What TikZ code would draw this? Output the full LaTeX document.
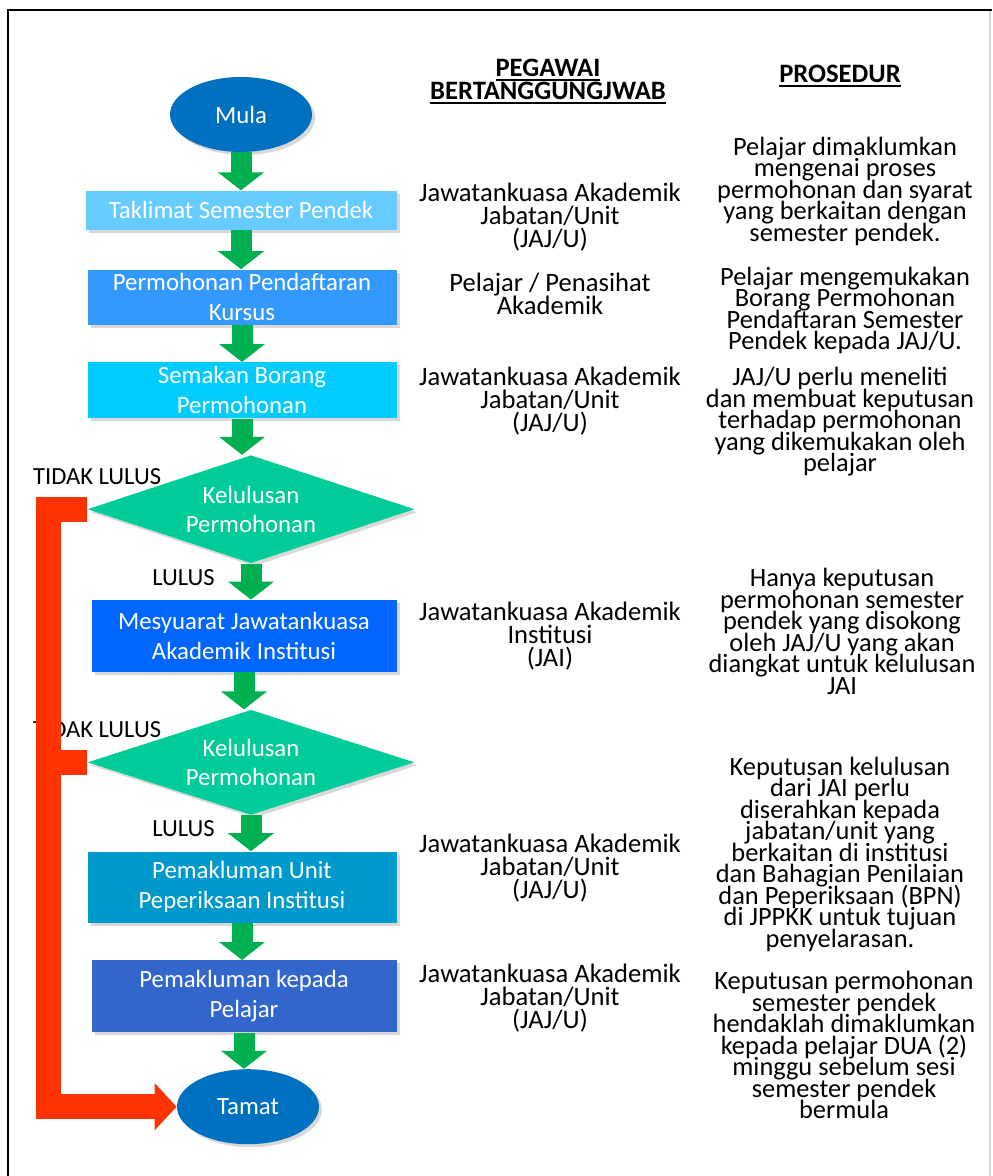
\documentclass[tikz,border=0pt]{standalone}
\usepackage{fontspec}
\setmainfont{Carlito}
\usetikzlibrary{positioning, shapes.geometric, arrows.meta, shadows}

\definecolor{ovalblue}{HTML}{0070C0}
\definecolor{skyblue}{HTML}{66CCFF}
\definecolor{midblue}{HTML}{3399FF}
\definecolor{cyanblue}{HTML}{00CCFF}
\definecolor{brightblue}{HTML}{0066FF}
\definecolor{seablue}{HTML}{0099CC}
\definecolor{royalblue}{HTML}{3366CC}
\definecolor{decgreen}{HTML}{00CC99}
\definecolor{flowgreen}{HTML}{00B050}
\definecolor{failred}{HTML}{FF3300}

\setlength{\lineskiplimit}{-20pt}
\newcommand{\headul}[1]{\setbox0\hbox{#1}\leavevmode\rlap{\vrule width \wd0 height -1.3pt depth 2.3pt}\box0}

\tikzset{
  shade/.style={drop shadow={shadow xshift=1.5pt, shadow yshift=-1.5pt, opacity=0.3}},
  oval/.style={ellipse, fill=ovalblue, text=white, inner sep=0pt, minimum width=71pt, minimum height=37.5pt, font=\fontsize{12.4}{15}\selectfont, shade},
  stepbox/.style={rectangle, text=white, inner sep=0pt, align=center, font=\fontsize{12.4}{15}\selectfont, shade},
  decision/.style={diamond, aspect=2.5, fill=decgreen, text=white, inner sep=0pt, minimum width=163.5pt, align=center, font=\fontsize{12.4}{14.5}\selectfont, shade},
  garrow/.style={draw=flowgreen, line width=10.5pt, -{Triangle[length=9pt, width=22.5pt]}},
  redarrow/.style={draw=failred, line width=12.5pt},
  lbl/.style={inner sep=0pt, font=\fontsize{12.3}{14}\selectfont},
  who/.style={inner sep=0pt, align=center, font=\fontsize{13.3}{11.5}\selectfont},
  what/.style={inner sep=0pt, align=center, font=\fontsize{13.2}{10.75}\selectfont},
  head/.style={inner sep=0pt, align=center, font=\fontsize{13.3}{11.5}\selectfont\bfseries}
}

\begin{document}
\begin{tikzpicture}[x=0.5pt, y=-0.5pt]
  \useasboundingbox (0,0) rectangle (992,1176);
  \fill[white] (0,0) rectangle (992,1176);
  % frame
  \draw[gray!35, line width=0.75pt] (990,10) -- (990,1176);
  \draw[line width=1pt] (8,1176) -- (8,10) -- (992,10);

  % flow
  \node[oval] (mula) at (241,114.5) {Mula};
  \node[stepbox, fill=skyblue, minimum width=155.5pt, minimum height=19.5pt, below=19pt of mula] (taklimat) {Taklimat Semester Pendek};
  \node[stepbox, fill=midblue, minimum width=154.5pt, minimum height=27.5pt, below=19.5pt of taklimat, xshift=0.5pt] (mohon) {Permohonan Pendaftaran\\Kursus};
  \node[stepbox, fill=cyanblue, minimum width=154.5pt, minimum height=28pt, below=18.5pt of mohon] (semak) {Semakan Borang\\Permohonan};
  \node[decision, minimum height=54pt, below=18pt of semak, xshift=4.5pt] (lulusa) {Kelulusan\\Permohonan};
  \node[stepbox, fill=brightblue, minimum width=152.5pt, minimum height=36pt, below=18pt of lulusa, xshift=-3.5pt] (mesyuarat) {Mesyuarat Jawatankuasa\\Akademik Institusi};
  \node[decision, minimum height=52.5pt, below=18.5pt of mesyuarat, xshift=3.5pt] (lulusb) {Kelulusan\\Permohonan};
  \node[stepbox, fill=seablue, minimum width=154.5pt, minimum height=35.5pt, below=18pt of lulusb, xshift=-4.5pt] (unit) {Pemakluman Unit\\Peperiksaan Institusi};
  \node[stepbox, fill=royalblue, minimum width=152.5pt, minimum height=36pt, below=18.5pt of unit, xshift=1pt] (pelajar) {Pemakluman kepada\\Pelajar};
  \node[oval, below=18pt of pelajar, xshift=2pt] (tamat) {Tamat};

  \node[lbl] (tidaka) at ([shift={(10,-33)}]lulusa.west) {TIDAK LULUS};
  \node[lbl] (tidakb) at ([shift={(10,-32.5)}]lulusb.west) {TIDAK LULUS};
  \node[lbl] (lulusla) at ([shift={(-67.5,14)}]lulusa.south) {LULUS};
  \node[lbl] (luluslb) at ([shift={(-67.5,13)}]lulusb.south) {LULUS};

  \draw[garrow] (mula.south) -- (mula.south |- taklimat.north);
  \draw[garrow] (taklimat.south) -- (taklimat.south |- mohon.north);
  \draw[garrow] (mohon.south) -- (mohon.south |- semak.north);
  \draw[garrow] (semak.south) -- (semak.south |- lulusa.north);
  \draw[garrow] (lulusa.south) -- (lulusa.south |- mesyuarat.north);
  \draw[garrow] (mesyuarat.south) -- (mesyuarat.south |- lulusb.north);
  \draw[garrow] (lulusb.south) -- (lulusb.south |- unit.north);
  \draw[garrow] (unit.south) -- (unit.south |- pelajar.north);
  \draw[garrow] (pelajar.south) -- (pelajar.south |- tamat.north);

  % tidak lulus
  \draw[redarrow, -{Triangle[length=11pt, width=23pt]}] (lulusa.west) -- ++(-38.5,0) |- (tamat.west);
  \draw[redarrow] (lulusb.west) -- ++(-38.5,0);

  % columns
  \node[head] (hpegawai) at (548,81.5) {\headul{PEGAWAI}\\\headul{BERTANGGUNGJWAB}};
  \node[head] (hprosedur) at (840,76) {\headul{PROSEDUR}};

  \node[who] (whoa) at (550,217) {Jawatankuasa Akademik\\Jabatan/Unit\\(JAJ/U)};
  \node[who] (whob) at (550,294) {Pelajar / Penasihat\\Akademik};
  \node[who] (whoc) at (550,401) {Jawatankuasa Akademik\\Jabatan/Unit\\(JAJ/U)};
  \node[who] (whod) at (550,636) {Jawatankuasa Akademik\\Institusi\\(JAI)};
  \node[who] (whoe) at (550,868) {Jawatankuasa Akademik\\Jabatan/Unit\\(JAJ/U)};
  \node[who] (whof) at (550,998) {Jawatankuasa Akademik\\Jabatan/Unit\\(JAJ/U)};

  \node[what] (whata) at (845,191) {Pelajar dimaklumkan\\mengenai proses\\permohonan dan syarat\\yang berkaitan dengan\\semester pendek.};
  \node[what] (whatb) at (845,310.5) {Pelajar mengemukakan\\Borang Permohonan\\Pendaftaran Semester\\Pendek kepada JAJ/U.};
  \node[what] (whatc) at (840,422) {JAJ/U perlu meneliti\\dan membuat keputusan\\terhadap permohonan\\yang dikemukakan oleh\\pelajar};
  \node[what] (whatd) at (842,631.5) {Hanya keputusan\\permohonan semester\\pendek yang disokong\\oleh JAJ/U yang akan\\diangkat untuk kelulusan\\JAI};
  \node[what] (whate) at (840,854) {Keputusan kelulusan\\dari JAI perlu\\diserahkan kepada\\jabatan/unit yang\\berkaitan di institusi\\dan Bahagian Penilaian\\dan Peperiksaan (BPN)\\di JPPKK untuk tujuan\\penyelarasan.};
  \node[what] (whatf) at (844,1045) {Keputusan permohonan\\semester pendek\\hendaklah dimaklumkan\\kepada pelajar DUA (2)\\minggu sebelum sesi\\semester pendek\\bermula};
\end{tikzpicture}
\end{document}
